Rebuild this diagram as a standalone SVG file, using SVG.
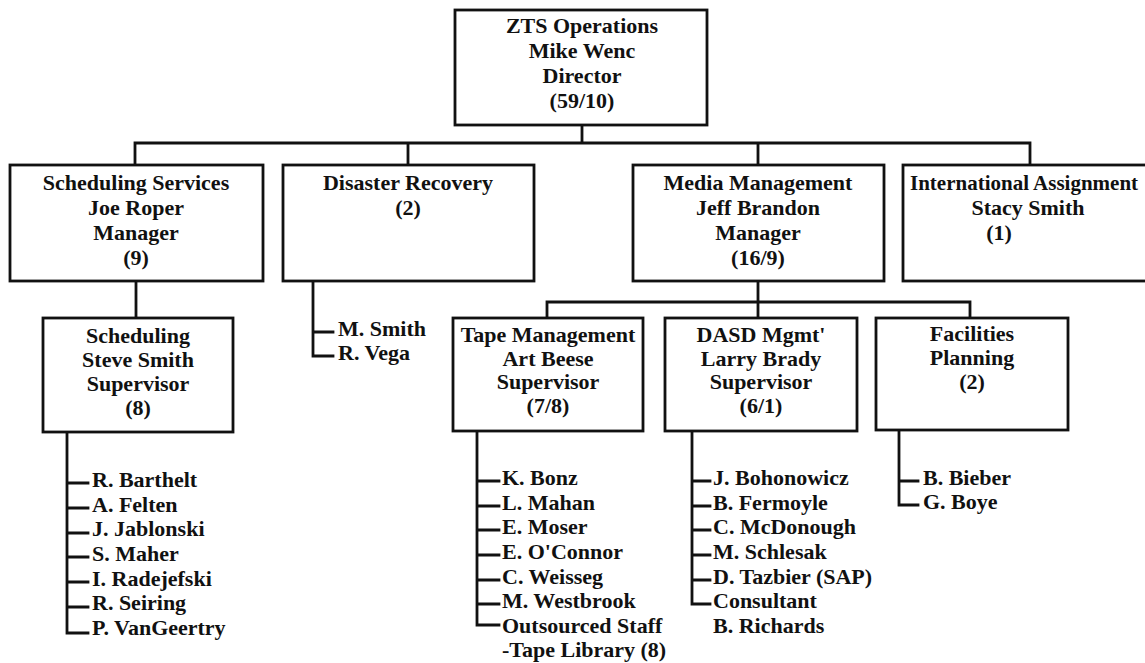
<svg xmlns="http://www.w3.org/2000/svg" width="1145" height="663" viewBox="0 0 1145 663">
  <style>
    .box { fill: #fff; stroke: #111; stroke-width: 2.8; }
    .wire { fill: none; stroke: #111; stroke-width: 2.8; stroke-linecap: square; }
    text { font-family: "Liberation Serif", "Times New Roman", serif; font-size: 22px; font-weight: bold; fill: #111; }
    .c { text-anchor: middle; }
    .tight { font-size: 21px; }
  </style>
  <rect width="1145" height="663" fill="#fff"/>

  <!-- connectors -->
  <g id="connectors" class="wire">
    <!-- director to department bus -->
    <path d="M582 125 V143 M135 165 V143 H1030 V165 M408 143 V165 M758 143 V165"/>
    <!-- Scheduling Services to Scheduling -->
    <path d="M136 281 V318"/>
    <!-- Media Management to its sections -->
    <path d="M758 281 V318 M547 318 V302 H970 V318"/>
    <!-- Disaster Recovery staff -->
    <path d="M313 281 V356 H333 M313 332 H333"/>
    <!-- Scheduling staff -->
    <path d="M67 432 V633 H88 M67 483 H88 M67 508 H88 M67 533 H88 M67 557 H88 M67 582 H88 M67 607 H88"/>
    <!-- Tape Management staff -->
    <path d="M477 430 V625 H499 M477 481 H499 M477 506 H499 M477 530 H499 M477 555 H499 M477 580 H499 M477 604 H499"/>
    <!-- DASD staff -->
    <path d="M692 430 V604 H710 M692 481 H710 M692 506 H710 M692 530 H710 M692 555 H710 M692 580 H710"/>
    <!-- Facilities staff -->
    <path d="M899 430 V505 H918 M899 481 H918"/>
  </g>

  <g id="director">
    <rect class="box" x="455" y="10" width="252" height="115"/>
    <text class="c" x="582" y="33">ZTS Operations</text>
    <text class="c" x="582" y="58">Mike Wenc</text>
    <text class="c" x="582" y="83">Director</text>
    <text class="c" x="582" y="108">(59/10)</text>
  </g>

  <g id="scheduling-services">
    <rect class="box" x="10" y="165" width="253" height="116"/>
    <text class="c" x="136" y="190">Scheduling Services</text>
    <text class="c" x="136" y="215">Joe Roper</text>
    <text class="c" x="136" y="240">Manager</text>
    <text class="c" x="136" y="265">(9)</text>
  </g>

  <g id="disaster-recovery">
    <rect class="box" x="283" y="165" width="251" height="116"/>
    <text class="c" x="408" y="190">Disaster Recovery</text>
    <text class="c" x="408" y="215">(2)</text>
  </g>

  <g id="media-management">
    <rect class="box" x="633" y="165" width="251" height="116"/>
    <text class="c" x="758" y="190">Media Management</text>
    <text class="c" x="758" y="215">Jeff Brandon</text>
    <text class="c" x="758" y="240">Manager</text>
    <text class="c" x="758" y="265">(16/9)</text>
  </g>

  <g id="international-assignment">
    <rect class="box" x="903" y="165" width="260" height="116"/>
    <text class="tight" x="910" y="190">International Assignment</text>
    <text class="c" x="1028" y="215">Stacy Smith</text>
    <text class="c" x="999" y="240">(1)</text>
  </g>

  <g id="scheduling">
    <rect class="box" x="43" y="318" width="190" height="114"/>
    <text class="c" x="138" y="343">Scheduling</text>
    <text class="c" x="138" y="367">Steve Smith</text>
    <text class="c" x="138" y="391">Supervisor</text>
    <text class="c" x="138" y="415">(8)</text>
  </g>

  <g id="tape-management">
    <rect class="box" x="453" y="318" width="190" height="113"/>
    <text class="c" x="548" y="342">Tape Management</text>
    <text class="c" x="548" y="366">Art Beese</text>
    <text class="c" x="548" y="389">Supervisor</text>
    <text class="c" x="548" y="413">(7/8)</text>
  </g>

  <g id="dasd-mgmt">
    <rect class="box" x="665" y="318" width="192" height="113"/>
    <text class="c" x="761" y="342">DASD Mgmt'</text>
    <text class="c" x="761" y="366">Larry Brady</text>
    <text class="c" x="761" y="389">Supervisor</text>
    <text class="c" x="761" y="413">(6/1)</text>
  </g>

  <g id="facilities-planning">
    <rect class="box" x="876" y="318" width="192" height="112"/>
    <text class="c" x="972" y="341">Facilities</text>
    <text class="c" x="972" y="365">Planning</text>
    <text class="c" x="972" y="389">(2)</text>
  </g>

  <g id="disaster-staff">
    <text x="338" y="336">M. Smith</text>
    <text x="338" y="360">R. Vega</text>
  </g>

  <g id="scheduling-staff">
    <text x="92" y="487">R. Barthelt</text>
    <text x="92" y="512">A. Felten</text>
    <text x="92" y="536">J. Jablonski</text>
    <text x="92" y="561">S. Maher</text>
    <text x="92" y="586">I. Radejefski</text>
    <text x="92" y="610">R. Seiring</text>
    <text x="92" y="635">P. VanGeertry</text>
  </g>

  <g id="tape-staff">
    <text x="502" y="485">K. Bonz</text>
    <text x="502" y="510">L. Mahan</text>
    <text x="502" y="534">E. Moser</text>
    <text x="502" y="559">E. O'Connor</text>
    <text x="502" y="584">C. Weisseg</text>
    <text x="502" y="608">M. Westbrook</text>
    <text x="502" y="633">Outsourced Staff</text>
    <text x="502" y="657">-Tape Library (8)</text>
  </g>

  <g id="dasd-staff">
    <text x="713" y="485">J. Bohonowicz</text>
    <text x="713" y="510">B. Fermoyle</text>
    <text x="713" y="534">C. McDonough</text>
    <text x="713" y="559">M. Schlesak</text>
    <text x="713" y="584">D. Tazbier (SAP)</text>
    <text x="713" y="608">Consultant</text>
    <text x="713" y="633">B. Richards</text>
  </g>

  <g id="facilities-staff">
    <text x="923" y="485">B. Bieber</text>
    <text x="923" y="509">G. Boye</text>
  </g>
</svg>
